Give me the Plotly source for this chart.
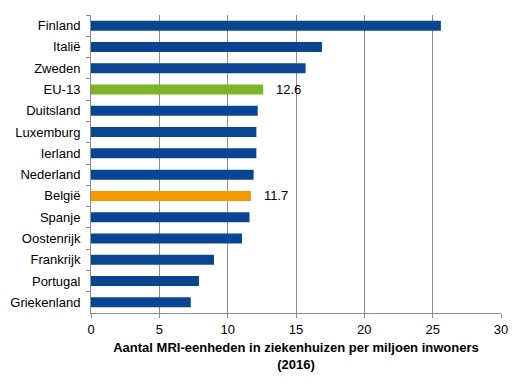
import plotly.graph_objects as go

countries = ["Finland", "Italië", "Zweden", "EU-13", "Duitsland", "Luxemburg", "Ierland",
             "Nederland", "België", "Spanje", "Oostenrijk", "Frankrijk", "Portugal", "Griekenland"]
values = [25.6, 16.9, 15.7, 12.6, 12.2, 12.1, 12.1, 11.9, 11.7, 11.6, 11.05, 9.0, 7.9, 7.3]
labelled = {"EU-13": "12.6", "België": "11.7"}
x_ticks = [0, 5, 10, 15, 20, 25, 30]

BLUE = "#0a4592"
GREEN = "#7ab526"
ORANGE = "#f39a00"
colors = [GREEN if c == "EU-13" else ORANGE if c == "België" else BLUE for c in countries]

fig = go.Figure(go.Bar(
    x=values, y=countries, orientation="h",
    marker=dict(color=colors, line=dict(width=0)),
    width=0.47,
    hoverinfo="skip",
))

for c, v in zip(countries, values):
    if c in labelled:
        fig.add_annotation(x=v, y=c, text=labelled[c], xanchor="left", showarrow=False,
                           xshift=11, font=dict(family="Liberation Sans, Arial", size=13, color="#000"))

# page body has an 8px default margin, so the figure is sized/offset to compensate
fig.update_layout(
    width=523, height=380,
    margin=dict(l=83, r=30, t=7, b=75),
    paper_bgcolor="white", plot_bgcolor="white",
    showlegend=False,
    font=dict(family="Liberation Sans, Arial", size=12, color="#000"),
    xaxis=dict(
        range=[0, 30], tickvals=x_ticks, ticktext=[str(t) for t in x_ticks],
        showgrid=True, gridcolor="#8c8c8c", gridwidth=1,
        showline=True, linecolor="#8c8c8c", linewidth=1,
        ticks="outside", ticklen=4, tickcolor="#8c8c8c",
        zeroline=False, automargin=False,
        title=dict(text="<b>Aantal MRI-eenheden in ziekenhuizen per miljoen inwoners<br>(2016)</b>",
                   font=dict(size=13), standoff=7),
        tickfont=dict(size=13),
    ),
    yaxis=dict(
        categoryorder="array", categoryarray=countries, autorange="reversed",
        showgrid=False, showline=True, linecolor="#8c8c8c", linewidth=1,
        ticks="outside", ticklen=4, tickcolor="#8c8c8c", tickson="boundaries",
        tickfont=dict(size=13), automargin=False, ticklabelstandoff=7,
    ),
)

fig.write_html("out.html")
